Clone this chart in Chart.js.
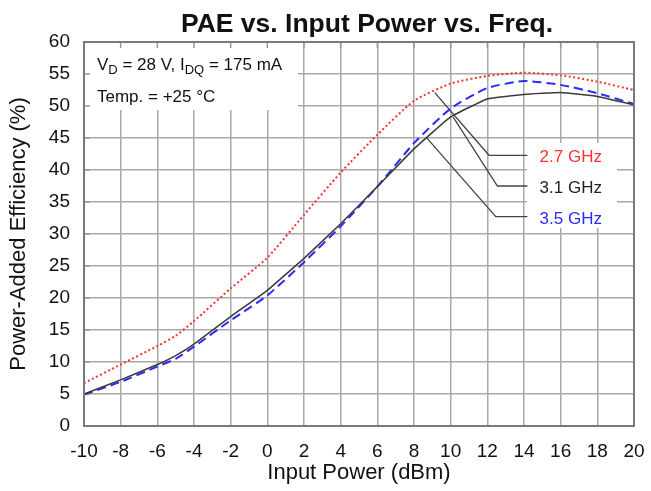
<!DOCTYPE html>
<html>
<head>
<meta charset="utf-8">
<script src="https://cdn.jsdelivr.net/npm/chart.js@4"></script>
<style>
  html, body { margin: 0; padding: 0; background: #fff; }
  #wrap { width: 651px; height: 491px; }
</style>
</head>
<body>
<div id="wrap"><canvas id="graph" width="651" height="491"></canvas></div>
<script>
const inputPower = [-10, -8, -6, -5, -4, -2, 0, 2, 4, 6, 8, 10, 12, 14, 16, 18, 20];
const pae27 = [6.7, 9.6, 12.5, 14.1, 16.4, 21.5, 26.3, 33.0, 39.6, 45.5, 50.8, 53.5, 54.7, 55.2, 54.8, 53.8, 52.5];
const pae31 = [5.0, 7.2, 9.6, 11.0, 12.8, 17.1, 21.2, 26.2, 31.6, 37.4, 43.3, 48.3, 51.1, 51.8, 52.1, 51.5, 50.2];
const pae35 = [4.9, 6.9, 9.3, 10.5, 12.4, 16.5, 20.4, 25.6, 31.2, 37.4, 44.2, 49.6, 52.8, 53.9, 53.3, 52.0, 50.3];

const freqLabels = ['2.7 GHz', '3.1 GHz', '3.5 GHz'];
const freqColors = ['#ff3030', '#222222', '#2a2aff'];
// callout leader lines, in data units: [curve point, elbow, end]
const calloutX = [[9.13, 12.09, 14.19], [10.13, 12.55, 14.19], [8.67, 12.46, 14.19]];
const calloutY = [[52.1, 42.3, 42.3], [48.3, 37.5, 37.5], [45.1, 32.7, 32.7]];
const labelX = 14.85;

const font = 'Arial, "Liberation Sans", sans-serif';

const toPoints = (xs, ys) => xs.map((x, i) => ({ x: x, y: ys[i] }));

const datasets = [
    {
        label: freqLabels[0],
        data: toPoints(inputPower, pae27),
        borderColor: freqColors[0],
        borderWidth: 2,
        borderDash: [2, 2.5],
        pointRadius: 0,
        tension: 0.2
    },
    {
        label: freqLabels[1],
        data: toPoints(inputPower, pae31),
        borderColor: '#3a3a3a',
        borderWidth: 1.5,
        pointRadius: 0,
        tension: 0.1
    },
    {
        label: freqLabels[2],
        data: toPoints(inputPower, pae35),
        borderColor: freqColors[2],
        borderWidth: 2,
        borderDash: [9, 5],
        pointRadius: 0,
        tension: 0.2
    }
];

calloutX.forEach((xs, i) => {
    datasets.push({
        label: 'callout' + i,
        data: toPoints(xs, calloutY[i]),
        borderColor: '#444',
        borderWidth: 1.3,
        pointRadius: 0,
        tension: 0
    });
});

const decorations = {
    id: 'decorations',
    beforeDatasetsDraw(chart) {
        const { ctx, chartArea, scales } = chart;
        const x = scales.x, y = scales.y;
        ctx.save();
        // white boxes behind the conditions note and the frequency labels
        ctx.fillStyle = '#fff';
        ctx.fillRect(chartArea.left, chartArea.top, 298 - chartArea.left, 110 - chartArea.top);
        ctx.fillRect(527, 143, 90, 85);
        // inner ticks
        ctx.strokeStyle = '#999';
        ctx.lineWidth = 1.5;
        ctx.beginPath();
        for (let v = -8; v < 20; v += 2) {
            const px = x.getPixelForValue(v);
            ctx.moveTo(px, chartArea.top);
            ctx.lineTo(px, chartArea.top + 6);
        }
        for (let v = 5; v < 60; v += 5) {
            const py = y.getPixelForValue(v);
            ctx.moveTo(chartArea.left, py);
            ctx.lineTo(chartArea.left + 6, py);
        }
        ctx.stroke();
        // conditions note
        ctx.fillStyle = '#111';
        ctx.textBaseline = 'alphabetic';
        ctx.textAlign = 'left';
        let tx = 97;
        const parts = [['V', 0], ['D', 1], [' = 28 V, I', 0], ['DQ', 1], [' = 175 mA', 0]];
        parts.forEach(([t, sub]) => {
            ctx.font = (sub ? '13px ' : '17px ') + font;
            ctx.fillText(t, tx, sub ? 74 : 70);
            tx += ctx.measureText(t).width;
        });
        ctx.font = '17px ' + font;
        ctx.fillText('Temp. = +25 \u00B0C', 97, 102);
        ctx.restore();
    },
    afterDatasetsDraw(chart) {
        const { ctx, chartArea, scales } = chart;
        ctx.save();
        ctx.strokeStyle = '#7a7a7a';
        ctx.lineWidth = 2;
        ctx.strokeRect(chartArea.left, chartArea.top, chartArea.right - chartArea.left, chartArea.bottom - chartArea.top);
        ctx.font = '17px ' + font;
        ctx.textAlign = 'left';
        ctx.textBaseline = 'alphabetic';
        freqLabels.forEach((t, i) => {
            ctx.fillStyle = freqColors[i];
            ctx.fillText(t, scales.x.getPixelForValue(labelX), scales.y.getPixelForValue(calloutY[i][2]) + 7);
        });
        // chart title
        ctx.fillStyle = '#111';
        ctx.font = 'bold 26.5px ' + font;
        ctx.textAlign = 'center';
        ctx.fillText('PAE vs. Input Power vs. Freq.', 367, 32);
        ctx.restore();
    }
};

new Chart(document.querySelector('#graph'), {
    type: 'line',
    data: { datasets: datasets },
    options: {
        responsive: false,
        animation: false,
        layout: { padding: { top: 42, right: 17, left: 0, bottom: 0 } },
        plugins: {
            legend: { display: false },
            title: { display: false },
            tooltip: { enabled: false }
        },
        scales: {
            x: {
                type: 'linear',
                min: -10,
                max: 20,
                afterFit(scale) {
                    scale.height = 65;
                    scale.paddingLeft = 0;
                    scale.paddingRight = 0;
                },
                ticks: {
                    stepSize: 2,
                    padding: 14,
                    color: '#111',
                    font: { family: font, size: 19 }
                },
                grid: { color: '#a8a8a8', lineWidth: 1.5, drawTicks: false },
                border: { display: false },
                title: {
                    display: true,
                    text: 'Input Power (dBm)',
                    color: '#111',
                    font: { family: font, size: 22 },
                    padding: { top: 0, bottom: 5 }
                }
            },
            y: {
                min: 0,
                max: 60,
                afterFit(scale) {
                    scale.width = 84;
                    scale.paddingTop = 0;
                    scale.paddingBottom = 0;
                },
                ticks: {
                    stepSize: 5,
                    padding: 14,
                    color: '#111',
                    font: { family: font, size: 19 }
                },
                grid: { color: '#a8a8a8', lineWidth: 1.5, drawTicks: false },
                border: { display: false },
                title: {
                    display: true,
                    text: 'Power-Added Efficiency (%)',
                    color: '#111',
                    font: { family: font, size: 22 },
                    padding: { top: 6, bottom: 0 }
                }
            }
        }
    },
    plugins: [decorations]
});
</script>
</body>
</html>
